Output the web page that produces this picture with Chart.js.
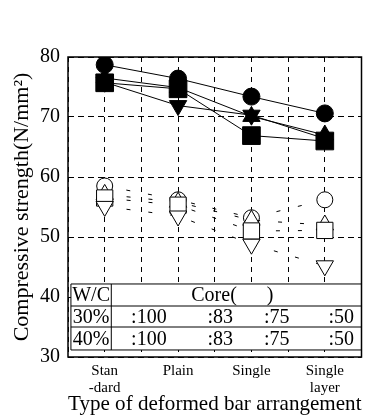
<!DOCTYPE html>
<html>
<head>
<meta charset="utf-8">
<script src="https://cdn.jsdelivr.net/npm/chart.js@4.4.1/dist/chart.umd.min.js"></script>
<style>
html,body{margin:0;padding:0;background:#fff;}
#wrap{width:375px;height:420px;}
</style>
</head>
<body>
<div id="wrap"><canvas id="c" width="375" height="420"></canvas></div>
<script>
// ---- data ----
const categories = [['Stan','-dard'], 'Plain', 'Single', ['Single','layer']];
const yTicks = [30, 40, 50, 60, 70, 80];
// W/C 30% (filled markers)
const filledCircle   = [78.7, 76.4, 73.4, 70.6];
const filledTriUp    = [76.5, 74.9, 70.1, 67.0];
const filledSquare   = [75.7, 74.7, 66.9, 66.0];
const filledTriDown  = [75.8, 71.9, 70.3, 66.4];
// W/C 40% (open markers)
const openCircle  = [58.5, 56.2, 53.2, 56.2];
const openTriUp   = [57.1, 55.8, 52.8, 52.0];
const openSquare  = [56.5, 55.3, 51.0, 51.1];
const openTriDown = [55.1, 53.5, 48.8, 45.2];
// table text
const tableHeader = ['W/C', 'Core(      )'];
const tableRows = ['30%', '40%'];
const ratios = [':100', ':83', ':75', ':50'];

const serif = "'Liberation Serif', 'DejaVu Serif', serif";
const pts = arr => arr.map((v, i) => ({x: i, y: v}));

function ds(data, style, filled, dashed, radius, rotation, order) {
  return {
    data: pts(data),
    showLine: true,
    borderColor: '#000',
    borderWidth: 1,
    borderDash: dashed ? [4, 18] : [],
    pointStyle: style,
    pointRadius: radius,
    pointRotation: rotation || 0,
    pointBackgroundColor: filled ? '#000' : '#fff',
    pointBorderColor: '#000',
    pointBorderWidth: 1,
    order: order,
    fill: false
  };
}

const datasets = [
  ds(filledCircle, 'circle', true, false, 8.5, 0, 1),
  ds(filledTriUp, 'triangle', true, false, 10, 0, 3),
  ds(filledSquare, 'rect', true, false, 12.5, 0, 2),
  ds(filledTriDown, 'triangle', true, false, 10, 180, 4),
  ds(openCircle, 'circle', false, true, 8, 0, 8),
  ds(openTriUp, 'triangle', false, true, 10, 0, 7),
  ds(openSquare, 'rect', false, true, 11.5, 0, 6),
  ds(openTriDown, 'triangle', false, true, 10, 180, 5)
];

const tablePlugin = {
  id: 'tablePlugin',
  beforeDatasetsDraw(chart) {
    const {ctx, chartArea, scales: {x, y}} = chart;
    const left = x.getPixelForValue(-0.46);
    const right = chartArea.right;
    const rowsY = [42.17, 38.5, 35.0, 31.17].map(v => y.getPixelForValue(v));
    const divX = x.getPixelForValue(0.09);
    ctx.save();
    ctx.fillStyle = '#fff';
    ctx.fillRect(left, rowsY[0], right - left, rowsY[3] - rowsY[0]);
    ctx.strokeStyle = '#000';
    ctx.lineWidth = 1;
    ctx.beginPath();
    rowsY.forEach(py => { ctx.moveTo(left, py); ctx.lineTo(right, py); });
    ctx.moveTo(left, rowsY[0]); ctx.lineTo(left, rowsY[3]);
    ctx.moveTo(divX, rowsY[0]); ctx.lineTo(divX, rowsY[3]);
    ctx.stroke();
    ctx.fillStyle = '#000';
    ctx.font = '20px ' + serif;
    ctx.textBaseline = 'middle';
    ctx.textAlign = 'center';
    const colMid = (left + divX) / 2;
    ctx.fillText(tableHeader[0], colMid, (rowsY[0] + rowsY[1]) / 2 + 1);
    ctx.fillText(tableHeader[1], x.getPixelForValue(1.74), (rowsY[0] + rowsY[1]) / 2 + 1);
    const ratioX = [0.36, 1.40, 2.17, 3.05];
    tableRows.forEach((r, i) => {
      const cy = (rowsY[i + 1] + rowsY[i + 2]) / 2 + 1;
      ctx.textAlign = 'center';
      ctx.fillText(r, colMid, cy);
      ctx.textAlign = 'left';
      ratios.forEach((t, j) => ctx.fillText(t, x.getPixelForValue(ratioX[j]), cy));
    });
    ctx.restore();
  },
  afterDraw(chart) {
    const {ctx, chartArea: a} = chart;
    ctx.save();
    ctx.strokeStyle = '#000';
    ctx.lineWidth = 1.5;
    ctx.strokeRect(a.left, a.top, a.right - a.left, a.bottom - a.top);
    ctx.restore();
  }
};

new Chart(document.getElementById('c'), {
  type: 'scatter',
  data: {datasets},
  options: {
    responsive: false,
    animation: false,
    events: [],
    layout: {padding: {top: 57, right: 4, left: 0, bottom: 0}},
    plugins: {legend: {display: false}, tooltip: {enabled: false}},
    scales: {
      x: {
        type: 'linear', min: -0.5, max: 3.5,
        afterFit(s) { s.height = 63; },
        afterBuildTicks(s) { s.ticks = [-0.5,0,0.5,1,1.5,2,2.5,3,3.5].map(v => ({value: v})); },
        ticks: {
          autoSkip: false, maxRotation: 0, padding: 6,
          color: '#000', font: {family: serif, size: 15, lineHeight: 1.1},
          callback: v => Number.isInteger(v) && v >= 0 && v < categories.length ? categories[v] : ''
        },
        grid: {color: '#000', lineWidth: 1, drawTicks: false},
        border: {display: false, dash: [5, 5]},
        title: {display: true, text: 'Type of deformed bar arrangement', color: '#000',
                font: {family: serif, size: 22, lineHeight: 1}, padding: {top: 0, bottom: 5}}
      },
      y: {
        min: 30, max: 80,
        afterFit(s) { s.width = 68; },
        afterBuildTicks(s) { s.ticks = yTicks.map(v => ({value: v})); },
        ticks: {padding: 8, color: '#000', font: {family: serif, size: 20}},
        grid: {color: '#000', lineWidth: 1, drawTicks: false},
        border: {display: false, dash: [6, 4]},
        title: {display: true, text: 'Compressive strength(N/mm²)', color: '#000',
                font: {family: serif, size: 22, lineHeight: 1}, padding: {top: 11, bottom: 0}}
      }
    }
  },
  plugins: [tablePlugin]
});
</script>
</body>
</html>
